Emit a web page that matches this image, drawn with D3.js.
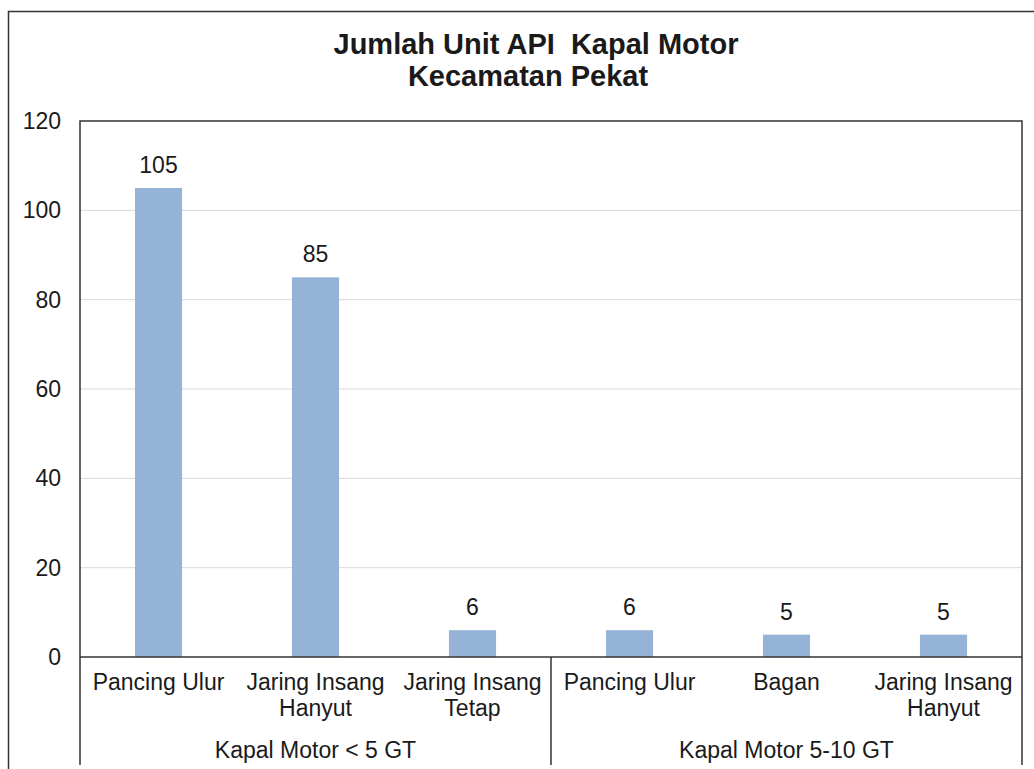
<!DOCTYPE html>
<html>
<head>
<meta charset="utf-8">
<script src="https://cdn.jsdelivr.net/npm/d3@7"></script>
<style>
  body { margin: 0; background: #fff; }
  text { font-family: "Liberation Sans", Arial, sans-serif; fill: #1a1a1a; }
</style>
</head>
<body>
<svg id="chart" width="1034" height="769"></svg>
<script>
// data
const groups = ['Kapal Motor < 5 GT', 'Kapal Motor 5-10 GT'];
const gears = [
  ['Pancing Ulur'],
  ['Jaring Insang', 'Hanyut'],
  ['Jaring Insang', 'Tetap'],
  ['Pancing Ulur'],
  ['Bagan'],
  ['Jaring Insang', 'Hanyut']
];
const gearGroup = [0, 0, 0, 1, 1, 1];
const units = [105, 85, 6, 6, 5, 5];
const yTicks = [0, 20, 40, 60, 80, 100, 120];

const svg = d3.select('#chart');
const plotL = 80, plotR = 1022, plotT = 121, plotB = 657;
const labelSize = '23px';

const ids = units.map((d, i) => i);
const x = d3.scaleBand().domain(ids).range([plotL, plotR]).paddingInner(0.7).paddingOuter(0.35);
const xCat = d3.scaleBand().domain(ids).range([plotL, plotR]);
const y = d3.scaleLinear().domain([0, 120]).range([plotB, plotT]);

// outer chart frame (cut off at right/bottom)
svg.append('path')
  .attr('d', 'M8.5,769 L8.5,11.5 L1034,11.5')
  .attr('fill', 'none').attr('stroke', '#333').attr('stroke-width', 1.5);

// title
svg.append('text').attr('x', 536).attr('y', 54).attr('text-anchor', 'middle')
  .style('white-space', 'pre')
  .style('font-size', '29px').style('font-weight', 'bold').text('Jumlah Unit API  Kapal Motor');
svg.append('text').attr('x', 528).attr('y', 86).attr('text-anchor', 'middle')
  .style('font-size', '29px').style('font-weight', 'bold').text('Kecamatan Pekat');

// gridlines
svg.append('g')
  .selectAll('line')
  .data(yTicks.filter(t => t > 0 && t < 120))
  .enter().append('line')
  .attr('x1', plotL).attr('x2', plotR)
  .attr('y1', d => y(d)).attr('y2', d => y(d))
  .attr('stroke', '#d9d9d9').attr('stroke-width', 1);

// y axis labels
const yAxis = d3.axisLeft(y).tickValues(yTicks).tickSize(0).tickPadding(19);
const ya = svg.append('g').attr('transform', `translate(${plotL},0)`).call(yAxis);
ya.select('.domain').remove();
ya.selectAll('text').style('font-size', labelSize).style('font-family', '"Liberation Sans", Arial, sans-serif').attr('fill', '#1a1a1a');

// bars
svg.append('g')
  .selectAll('rect')
  .data(units)
  .enter().append('rect')
  .attr('x', (d, i) => x(i))
  .attr('y', d => y(d))
  .attr('width', x.bandwidth())
  .attr('height', d => y(0) - y(d))
  .attr('fill', '#95b3d7');

// value labels
svg.append('g')
  .selectAll('text')
  .data(units)
  .enter().append('text')
  .attr('x', (d, i) => x(i) + x.bandwidth() / 2)
  .attr('y', d => y(d) - 15)
  .attr('text-anchor', 'middle')
  .style('font-size', labelSize)
  .text(d => d);

// plot frame: top, left, right, plus the zero line
svg.append('path')
  .attr('d', `M${plotL},${plotB + 108} L${plotL},${plotT} L${plotR},${plotT} L${plotR},${plotB + 108}`)
  .attr('fill', 'none').attr('stroke', '#333').attr('stroke-width', 1.5);
svg.append('line')
  .attr('x1', plotL).attr('x2', plotR).attr('y1', y(0)).attr('y2', y(0))
  .attr('stroke', '#333').attr('stroke-width', 1.5);

// group divider
const divX = xCat(3);
svg.append('line')
  .attr('x1', divX).attr('x2', divX).attr('y1', y(0)).attr('y2', plotB + 108)
  .attr('stroke', '#333').attr('stroke-width', 1.5);

// category labels
const cat = svg.append('g').selectAll('text')
  .data(gears)
  .enter().append('text')
  .attr('x', (d, i) => xCat(i) + xCat.bandwidth() / 2)
  .attr('y', 690)
  .attr('text-anchor', 'middle')
  .style('font-size', labelSize);
cat.selectAll('tspan')
  .data(d => d)
  .enter().append('tspan')
  .attr('x', function () { return d3.select(this.parentNode).attr('x'); })
  .attr('dy', (d, i) => i === 0 ? 0 : 26)
  .text(d => d);

// group labels
svg.append('g').selectAll('text')
  .data(groups)
  .enter().append('text')
  .attr('x', (d, gi) => {
    const idx = ids.filter(i => gearGroup[i] === gi);
    return (xCat(idx[0]) + xCat(idx[idx.length - 1]) + xCat.bandwidth()) / 2;
  })
  .attr('y', 758)
  .attr('text-anchor', 'middle')
  .style('font-size', labelSize)
  .text(d => d);
</script>
</body>
</html>
